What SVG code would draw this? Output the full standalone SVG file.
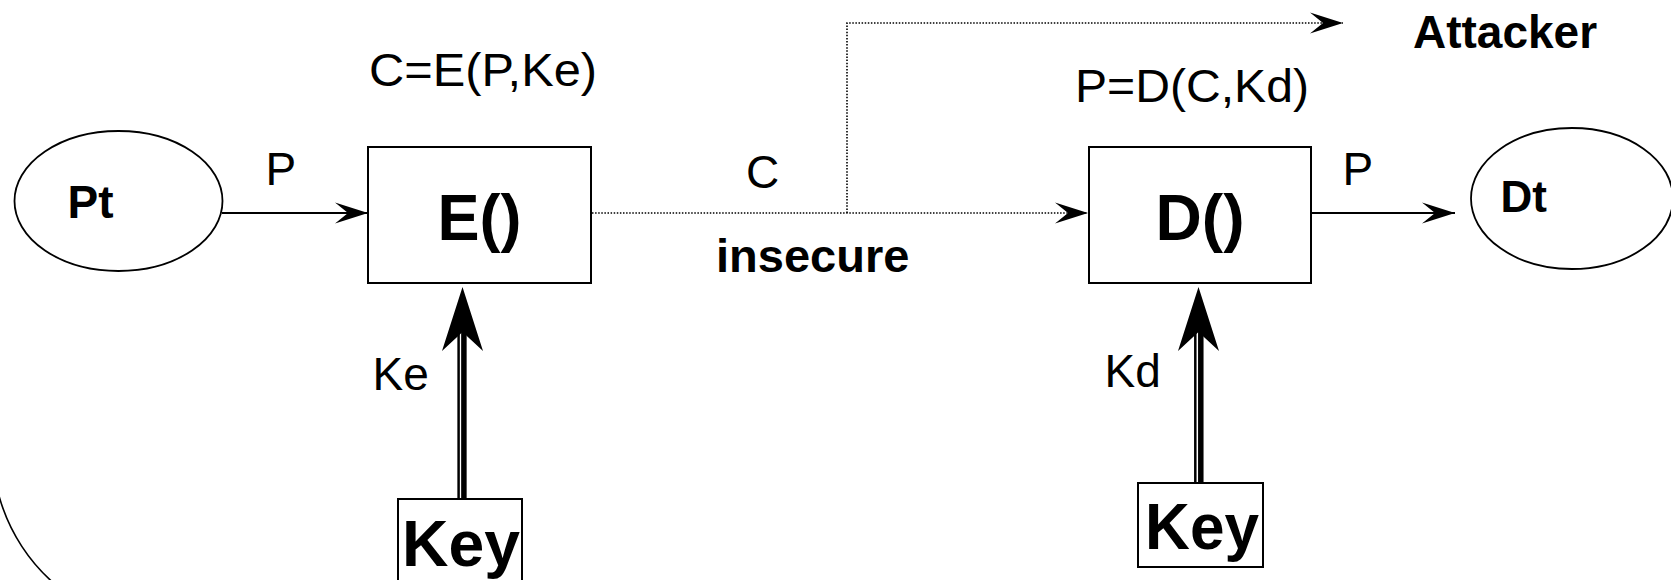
<svg xmlns="http://www.w3.org/2000/svg" xmlns:xlink="http://www.w3.org/1999/xlink" width="1671" height="580" viewBox="0 0 1671 580">
  <style>
    .box { fill: #fff; stroke: #000; stroke-width: 2; }
    .oval { fill: #fff; stroke: #000; stroke-width: 1.8; }
    .wire { fill: none; stroke: #000; stroke-width: 2; }
    .dot { fill: none; stroke: #000; stroke-width: 1.6; stroke-dasharray: 1.5 1.6; }
    .lbl { font-family: "Liberation Sans", Arial, sans-serif; font-size: 46px; fill: #000; }
    .bold { font-family: "Liberation Sans", Arial, sans-serif; font-weight: bold; fill: #000; }
    .big { font-size: 64px; }
  </style>
  <defs>
    <marker id="head" markerUnits="userSpaceOnUse" viewBox="-34 -12 36 24" refX="0" refY="0" markerWidth="36" markerHeight="24" orient="auto">
      <path d="M0,0 L-33,-10.5 L-20,0 L-33,10.5 Z" fill="#000"/>
    </marker>
    <path id="keyhead" d="M0,0 L-20.5,64 L0,45 L20.5,64 Z" fill="#000"/>
  </defs>

  <!-- connectors -->
  <g id="connectors">
    <line class="wire" x1="222" y1="213" x2="368" y2="213" marker-end="url(#head)"/>
    <line class="dot" x1="592" y1="213" x2="1088" y2="213" marker-end="url(#head)"/>
    <polyline class="dot" points="847,213 847,23 1343,23" marker-end="url(#head)"/>
    <line class="wire" x1="1312" y1="213" x2="1455" y2="213" marker-end="url(#head)"/>
    <!-- key feed into E() -->
    <line x1="458.6" y1="499" x2="458.6" y2="330" stroke="#000" stroke-width="2.5"/>
    <line x1="463.9" y1="499" x2="463.9" y2="330" stroke="#000" stroke-width="5.5"/>
    <use xlink:href="#keyhead" x="462.5" y="287"/>
    <!-- key feed into D() -->
    <line x1="1195.3" y1="483" x2="1195.3" y2="330" stroke="#000" stroke-width="2.5"/>
    <line x1="1200.8" y1="483" x2="1200.8" y2="330" stroke="#000" stroke-width="5.5"/>
    <use xlink:href="#keyhead" x="1198.5" y="287"/>
  </g>

  <!-- edge labels -->
  <g id="labels">
    <text class="lbl" x="265.5" y="185">P</text>
    <text class="lbl" x="746" y="188">C</text>
    <text class="bold" x="716" y="272" font-size="47">insecure</text>
    <text class="lbl" x="1342.5" y="185">P</text>
    <text class="lbl" x="372.5" y="390">Ke</text>
    <text class="lbl" x="1104.5" y="387">Kd</text>
    <text class="lbl" x="369" y="86" font-size="47" textLength="228" lengthAdjust="spacingAndGlyphs">C=E(P,Ke)</text>
    <text class="lbl" x="1075" y="102" font-size="48" textLength="234" lengthAdjust="spacingAndGlyphs">P=D(C,Kd)</text>
  </g>

  <!-- outer boundary arc -->
  <path id="boundary" d="M -2,492 A 180 180 0 0 0 62,590" fill="none" stroke="#000" stroke-width="1.6"/>

  <g id="node-pt">
    <ellipse class="oval" cx="118.5" cy="201" rx="104" ry="70"/>
    <text class="bold" x="67.5" y="218" font-size="46">Pt</text>
  </g>

  <g id="node-enc">
    <rect class="box" x="368" y="147" width="223" height="136"/>
    <text class="bold big" x="479.5" y="240" text-anchor="middle" textLength="84" lengthAdjust="spacingAndGlyphs">E()</text>
  </g>

  <g id="node-dec">
    <rect class="box" x="1089" y="147" width="222" height="136"/>
    <text class="bold big" x="1200" y="240" text-anchor="middle" textLength="89" lengthAdjust="spacingAndGlyphs">D()</text>
  </g>

  <g id="node-dt">
    <ellipse class="oval" cx="1572" cy="198.5" rx="101" ry="70.5"/>
    <text class="bold" x="1500.5" y="212" font-size="44">Dt</text>
  </g>

  <g id="node-attacker">
    <text class="bold" x="1413" y="48" font-size="46">Attacker</text>
  </g>

  <g id="node-key-enc">
    <rect class="box" x="398" y="499" width="124" height="90"/>
    <text class="bold big" x="461" y="566" text-anchor="middle" textLength="118" lengthAdjust="spacingAndGlyphs">Key</text>
  </g>

  <g id="node-key-dec">
    <rect class="box" x="1138" y="483" width="125" height="84"/>
    <text class="bold big" x="1202" y="549" text-anchor="middle" textLength="114" lengthAdjust="spacingAndGlyphs">Key</text>
  </g>
</svg>
